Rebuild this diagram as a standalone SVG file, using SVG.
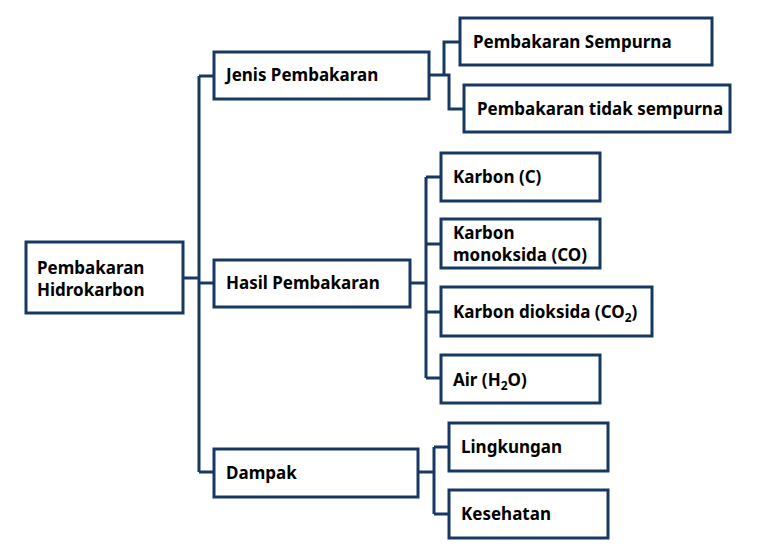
<svg xmlns="http://www.w3.org/2000/svg" width="774" height="556" viewBox="0 0 774 556">
<style>
.box{fill:#fff;stroke:#183864;stroke-width:3}
.ln{fill:none;stroke:#183864;stroke-width:3;stroke-linejoin:miter}
text{font-family:"Noto Sans","Open Sans","Liberation Sans",sans-serif;font-weight:bold;font-size:17px;fill:#000}
.sub{font-size:12px}
</style>
<rect width="774" height="556" fill="#fff"/>
<g id="connectors">
<path class="ln" d="M183,278 H199 M199,76 V472 M199,76 H214 M199,283 H214 M199,472 H214"/>
<path class="ln" d="M429,75 H444 V42 H460 M444,75 H449 V109 H464"/>
<path class="ln" d="M410,283 H426 M426,177 V378 M426,177 H441 M426,244 H441 M426,312 H441 M426,378 H441"/>
<path class="ln" d="M418,472 H434 M434,447 V514 M434,447 H449 M434,514 H449"/>
</g>
<g id="root"><rect class="box" x="26" y="242" width="157" height="71"/><text x="37" y="274">Pembakaran</text><text x="37" y="296">Hidrokarbon</text></g>
<g id="jenis"><rect class="box" x="214" y="52" width="215" height="47"/><text x="226" y="81">Jenis Pembakaran</text></g>
<g id="hasil"><rect class="box" x="214" y="260" width="196" height="47"/><text x="226" y="289">Hasil Pembakaran</text></g>
<g id="dampak"><rect class="box" x="214" y="449" width="204" height="48"/><text x="226" y="479">Dampak</text></g>
<g id="sempurna"><rect class="box" x="460" y="18" width="252" height="47"/><text x="473" y="48">Pembakaran Sempurna</text></g>
<g id="tidak"><rect class="box" x="464" y="85" width="266" height="47"/><text x="477" y="115">Pembakaran tidak sempurna</text></g>
<g id="karbon"><rect class="box" x="441" y="153" width="159" height="48"/><text x="453" y="183">Karbon (C)</text></g>
<g id="co"><rect class="box" x="441" y="219" width="159" height="49"/><text x="453" y="239">Karbon</text><text x="453" y="261">monoksida (CO)</text></g>
<g id="co2"><rect class="box" x="441" y="287" width="211" height="49"/><text x="453" y="318">Karbon dioksida (CO<tspan class="sub" dy="4">2</tspan><tspan dy="-4">)</tspan></text></g>
<g id="air"><rect class="box" x="441" y="355" width="159" height="48"/><text x="453" y="386">Air (H<tspan class="sub" dy="4">2</tspan><tspan dy="-4">O)</tspan></text></g>
<g id="lingkungan"><rect class="box" x="449" y="423" width="159" height="48"/><text x="461" y="453">Lingkungan</text></g>
<g id="kesehatan"><rect class="box" x="449" y="490" width="159" height="48"/><text x="461" y="520">Kesehatan</text></g>
</svg>
